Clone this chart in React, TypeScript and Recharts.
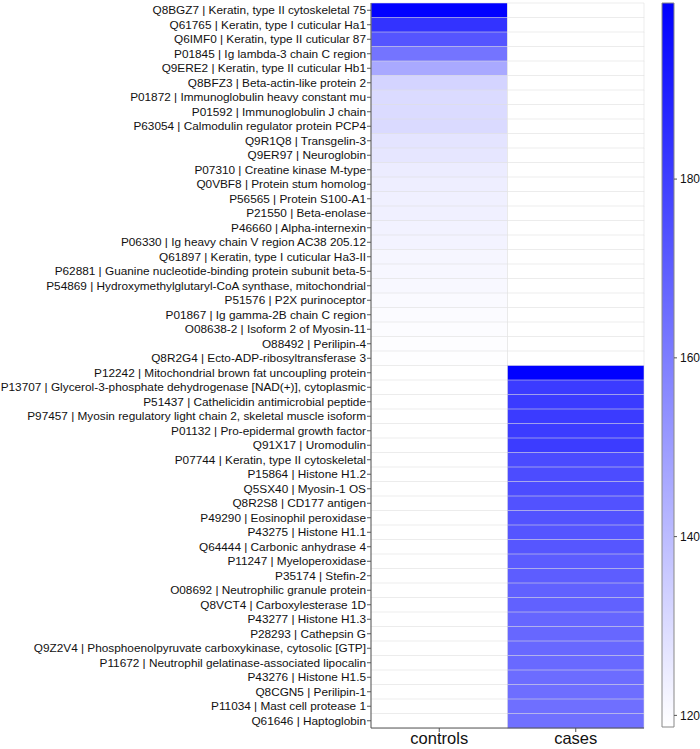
import React from "react";
import {
  BarChart,
  Bar,
  Cell,
  XAxis,
  YAxis,
  Rectangle,
} from "recharts";

const proteins = [
  "Q8BGZ7 | Keratin, type II cytoskeletal 75",
  "Q61765 | Keratin, type I cuticular Ha1",
  "Q6IMF0 | Keratin, type II cuticular 87",
  "P01845 | Ig lambda-3 chain C region",
  "Q9ERE2 | Keratin, type II cuticular Hb1",
  "Q8BFZ3 | Beta-actin-like protein 2",
  "P01872 | Immunoglobulin heavy constant mu",
  "P01592 | Immunoglobulin J chain",
  "P63054 | Calmodulin regulator protein PCP4",
  "Q9R1Q8 | Transgelin-3",
  "Q9ER97 | Neuroglobin",
  "P07310 | Creatine kinase M-type",
  "Q0VBF8 | Protein stum homolog",
  "P56565 | Protein S100-A1",
  "P21550 | Beta-enolase",
  "P46660 | Alpha-internexin",
  "P06330 | Ig heavy chain V region AC38 205.12",
  "Q61897 | Keratin, type I cuticular Ha3-II",
  "P62881 | Guanine nucleotide-binding protein subunit beta-5",
  "P54869 | Hydroxymethylglutaryl-CoA synthase, mitochondrial",
  "P51576 | P2X purinoceptor",
  "P01867 | Ig gamma-2B chain C region",
  "O08638-2 | Isoform 2 of Myosin-11",
  "O88492 | Perilipin-4",
  "Q8R2G4 | Ecto-ADP-ribosyltransferase 3",
  "P12242 | Mitochondrial brown fat uncoupling protein",
  "P13707 | Glycerol-3-phosphate dehydrogenase [NAD(+)], cytoplasmic",
  "P51437 | Cathelicidin antimicrobial peptide",
  "P97457 | Myosin regulatory light chain 2, skeletal muscle isoform",
  "P01132 | Pro-epidermal growth factor",
  "Q91X17 | Uromodulin",
  "P07744 | Keratin, type II cytoskeletal",
  "P15864 | Histone H1.2",
  "Q5SX40 | Myosin-1 OS",
  "Q8R2S8 | CD177 antigen",
  "P49290 | Eosinophil peroxidase",
  "P43275 | Histone H1.1",
  "Q64444 | Carbonic anhydrase 4",
  "P11247 | Myeloperoxidase",
  "P35174 | Stefin-2",
  "O08692 | Neutrophilic granule protein",
  "Q8VCT4 | Carboxylesterase 1D",
  "P43277 | Histone H1.3",
  "P28293 | Cathepsin G",
  "Q9Z2V4 | Phosphoenolpyruvate carboxykinase, cytosolic [GTP]",
  "P11672 | Neutrophil gelatinase-associated lipocalin",
  "P43276 | Histone H1.5",
  "Q8CGN5 | Perilipin-1",
  "P11034 | Mast cell protease 1",
  "Q61646 | Haptoglobin",
];

// null = not detected in that group (drawn white)
const controlsValues: (number | null)[] = [
  199.5, 183.5, 172.7, 163, 146, 132.5, 130, 130, 130.5, 127.2,
  126.8, 124.8, 124, 123.6, 123.4, 122.8, 122.4, 121.5, 121.3, 121,
  120.3, 120, 119.7, 119.4, 119,
  null, null, null, null, null, null, null, null, null, null,
  null, null, null, null, null, null, null, null, null, null,
  null, null, null, null, null,
];

const casesValues: (number | null)[] = [
  null, null, null, null, null, null, null, null, null, null,
  null, null, null, null, null, null, null, null, null, null,
  null, null, null, null, null,
  199.5, 181, 181, 180.8, 180.5, 180.5, 176, 175.7, 175.4, 173.7,
  173.2, 172.7, 172.4, 170.5, 170, 169, 168.8, 167.3, 167, 166.7,
  166.2, 165.4, 164.8, 164.4, 164.2,
];

const groups = ["controls", "cases"];
const colorTicks = [120, 140, 160, 180];
const MIN = 118.7;
const MAX = 199.7;

const FONT = '"Liberation Sans", Arial, sans-serif';

function heatColor(v: number | null) {
  if (v == null) return "#ffffff";
  const t = Math.max(0, Math.min(1, (v - MIN) / (MAX - MIN)));
  const c = Math.round(255 * (1 - t));
  return `rgb(${c},${c},255)`;
}

const rows = proteins.map((name, i) => ({
  name,
  controls: 1,
  cases: 1,
  cv: controlsValues[i],
  sv: casesValues[i],
}));

const scaleData = [{ k: "scale", range: [MIN, MAX] }];

// plain text tick so long names don't get wrapped
function ProteinTick({ x, y, payload }: any) {
  return (
    <text
      x={x}
      y={y}
      dy="0.36em"
      textAnchor="end"
      fill="#111"
      fontSize={11.8}
      fontFamily={FONT}
    >
      {payload.value}
    </text>
  );
}

export default function App() {
  return (
    <div
      style={{
        position: "absolute",
        left: 0,
        top: 0,
        width: 700,
        height: 749,
        background: "#fff",
        fontFamily: FONT,
      }}
    >
      <div style={{ position: "absolute", left: 0, top: 0 }}>
        <BarChart
          width={660}
          height={749}
          data={rows}
          layout="vertical"
          barCategoryGap={0}
          margin={{ top: 3, right: 16, bottom: 0, left: 0 }}
        >
          <XAxis
            type="number"
            domain={[0, 2]}
            ticks={[0.5, 1.5]}
            tickFormatter={(v) => groups[v < 1 ? 0 : 1]}
            height={21}
            tickSize={4}
            tickMargin={0}
            stroke="#555"
            tick={{ fill: "#111", fontSize: 16.5, fontFamily: FONT }}
          />
          <XAxis
            xAxisId="top"
            orientation="top"
            type="number"
            domain={[0, 2]}
            height={0}
            tick={false}
            tickLine={false}
            stroke="#888"
          />
          <YAxis
            type="category"
            dataKey="name"
            width={371}
            interval={0}
            tickSize={4}
            tickMargin={1}
            stroke="#555"
            tick={<ProteinTick />}
          />
          <YAxis
            yAxisId="right"
            orientation="right"
            type="category"
            dataKey="name"
            width={0}
            tick={false}
            tickLine={false}
            stroke="#888"
          />
          <Bar
            dataKey="controls"
            stackId="h"
            isAnimationActive={false}
            stroke="#e0e0e0"
            strokeOpacity={0.55}
            strokeWidth={1}
          >
            {rows.map((r, i) => (
              <Cell key={`c-${i}`} fill={heatColor(r.cv)} />
            ))}
          </Bar>
          <Bar
            dataKey="cases"
            stackId="h"
            isAnimationActive={false}
            stroke="#e0e0e0"
            strokeOpacity={0.55}
            strokeWidth={1}
          >
            {rows.map((r, i) => (
              <Cell key={`s-${i}`} fill={heatColor(r.sv)} />
            ))}
          </Bar>
        </BarChart>
      </div>

      <div style={{ position: "absolute", left: 650, top: 0 }}>
        <BarChart
          width={50}
          height={749}
          data={scaleData}
          barCategoryGap={0}
          margin={{ top: 3, right: 0, bottom: 22, left: 12 }}
        >
          <defs>
            <linearGradient id="scaleGrad" x1="0" y1="0" x2="0" y2="1">
              <stop offset="0%" stopColor="#0000ff" />
              <stop offset="100%" stopColor="#ffffff" />
            </linearGradient>
          </defs>
          <XAxis dataKey="k" hide />
          <YAxis
            orientation="right"
            type="number"
            domain={[MIN, MAX]}
            ticks={colorTicks}
            width={26}
            tickSize={3}
            tickMargin={3}
            axisLine={false}
            stroke="#555"
            tick={{ fill: "#111", fontSize: 12, fontFamily: FONT }}
          />
          <Bar
            dataKey="range"
            isAnimationActive={false}
            fill="url(#scaleGrad)"
            stroke="#888"
            strokeWidth={1}
            shape={(p: any) => <Rectangle {...p} />}
          />
        </BarChart>
      </div>
    </div>
  );
}
